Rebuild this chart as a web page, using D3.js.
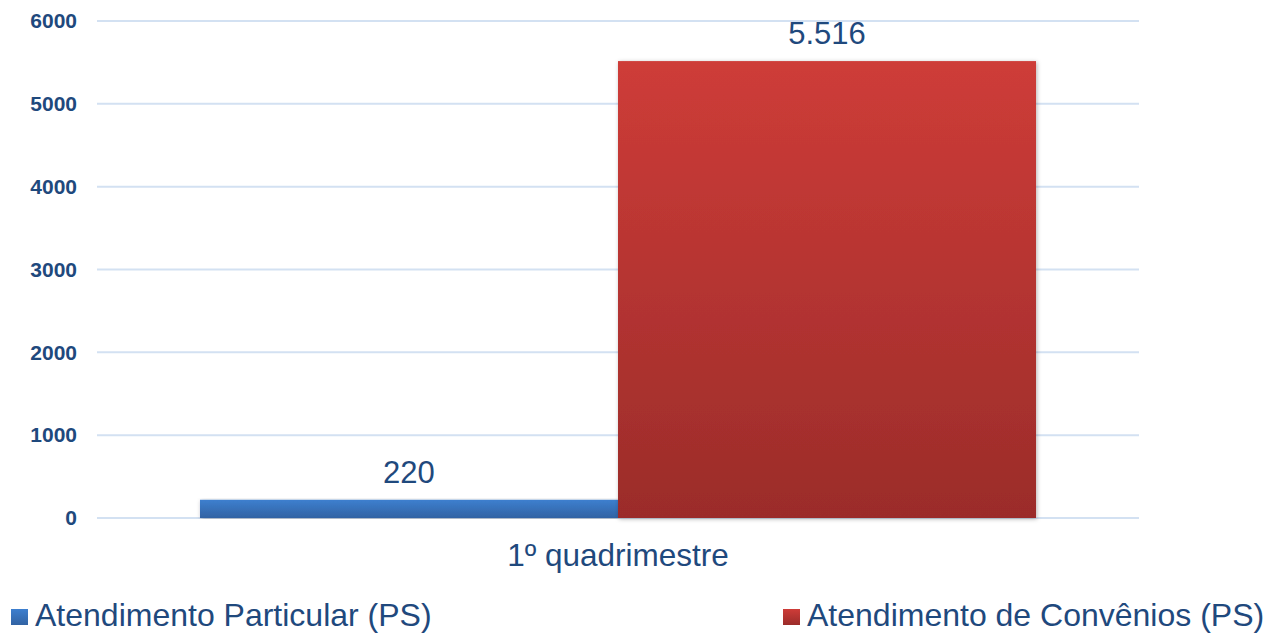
<!DOCTYPE html>
<html>
<head>
<meta charset="utf-8">
<script src="https://cdn.jsdelivr.net/npm/d3@7"></script>
<style>
  body { margin: 0; background: #fff; }
  svg { display: block; font-family: "Liberation Sans", Arial, sans-serif; }
</style>
</head>
<body>
<svg id="chart"></svg>
<script>
const categories = ['1º quadrimestre'];
const seriesNames = ['Atendimento Particular (PS)', 'Atendimento de Convênios (PS)'];
const seriesValues = [220, 5516];
const valueLabels = ['220', '5.516'];
const yTicks = [0, 1000, 2000, 3000, 4000, 5000, 6000];

const width = 1265;
const height = 634;
const margin = { top: 21, bottom: 116, left: 97, right: 126 };
const textColor = '#1f497d';
const colors = [
  { top: '#3d7fcf', bottom: '#3263a3' },
  { top: '#ce3c38', bottom: '#9b2c2a' }
];

const svg = d3.select('#chart')
  .attr('width', width)
  .attr('height', height);

const defs = svg.append('defs');
colors.forEach((c, i) => {
  const grad = defs.append('linearGradient')
    .attr('id', 'grad' + i)
    .attr('x1', 0).attr('y1', 0).attr('x2', 0).attr('y2', 1);
  grad.append('stop').attr('offset', '0%').attr('stop-color', c.top);
  grad.append('stop').attr('offset', '100%').attr('stop-color', c.bottom);
});
const shadow = defs.append('filter').attr('id', 'shadow')
  .attr('x', '-5%').attr('y', '-5%').attr('width', '110%').attr('height', '110%');
shadow.append('feDropShadow')
  .attr('dx', 1).attr('dy', 1).attr('stdDeviation', 2)
  .attr('flood-color', '#000').attr('flood-opacity', 0.3);

const innerWidth = width - margin.left - margin.right;
const innerHeight = height - margin.top - margin.bottom;

const g = svg.append('g')
  .attr('transform', `translate(${margin.left}, ${margin.top})`);

const x0 = d3.scaleBand().domain(categories).range([0, innerWidth])
  .paddingInner(0).paddingOuter(0.1232);
const x1 = d3.scaleBand().domain(seriesNames).range([0, x0.bandwidth()]).padding(0);
const y = d3.scaleLinear().domain([0, 6000]).range([innerHeight, 0]);

// gridlines
g.selectAll('.grid')
  .data(yTicks)
  .enter().append('line')
    .attr('class', 'grid')
    .attr('x1', 0)
    .attr('x2', innerWidth)
    .attr('y1', d => y(d))
    .attr('y2', d => y(d))
    .attr('stroke', '#d3e1f2')
    .attr('stroke-width', 2);

// y axis labels
const yAxis = g.append('g')
  .call(d3.axisLeft(y).tickValues(yTicks).tickSize(0).tickPadding(20).tickFormat(d3.format('d')));
yAxis.select('.domain').remove();
yAxis.selectAll('text')
  .attr('fill', textColor)
  .style('font-size', '21px')
  .style('font-weight', 'bold')
  .style('font-family', '"Liberation Sans", Arial, sans-serif');

// bars
const data = seriesNames.map((name, i) => ({ name, value: seriesValues[i], label: valueLabels[i], i }));
const group = g.append('g')
  .attr('transform', `translate(${x0(categories[0])}, 0)`);

group.selectAll('.bar')
  .data(data)
  .enter().append('rect')
    .attr('class', 'bar')
    .attr('x', d => x1(d.name))
    .attr('y', d => y(d.value))
    .attr('width', x1.bandwidth())
    .attr('height', d => innerHeight - y(d.value))
    .attr('fill', d => `url(#grad${d.i})`)
    .attr('filter', 'url(#shadow)');

group.selectAll('.val')
  .data(data)
  .enter().append('text')
    .attr('class', 'val')
    .attr('x', d => x1(d.name) + x1.bandwidth() / 2)
    .attr('y', d => y(d.value) - 17)
    .attr('text-anchor', 'middle')
    .attr('fill', textColor)
    .style('font-size', '31px')
    .text(d => d.label);

// category label
g.selectAll('.cat')
  .data(categories)
  .enter().append('text')
    .attr('class', 'cat')
    .attr('x', d => x0(d) + x0.bandwidth() / 2)
    .attr('y', innerHeight + 48)
    .attr('text-anchor', 'middle')
    .attr('fill', textColor)
    .style('font-size', '31.5px')
    .text(d => d);

// legend
const legendX = [11, 783];
const legend = svg.selectAll('.legend')
  .data(data)
  .enter().append('g')
    .attr('class', 'legend')
    .attr('transform', (d, i) => `translate(${legendX[i]}, 609)`);
legend.append('rect')
  .attr('width', 17)
  .attr('height', 16)
  .attr('fill', d => `url(#grad${d.i})`);
legend.append('text')
  .attr('x', 24)
  .attr('y', 17)
  .attr('fill', textColor)
  .style('font-size', '32px')
  .text(d => d.name);
</script>
</body>
</html>
